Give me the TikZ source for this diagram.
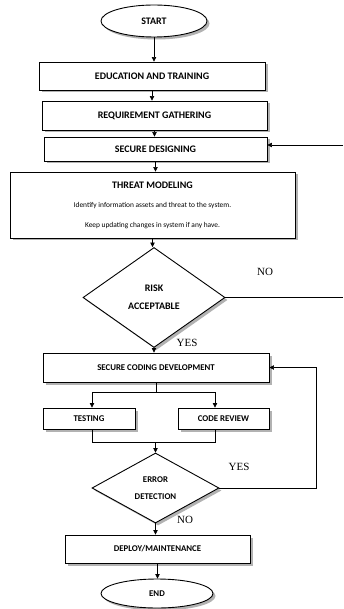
\documentclass[tikz,border=0pt]{standalone}
\usepackage{fontspec}
\setmainfont{Carlito}
\newfontfamily\lblfont{Liberation Serif}
\usetikzlibrary{shapes.geometric,shadows,arrows.meta}
\newcommand\hdfont{\fontsize{10}{12}\selectfont\bfseries}
\newcommand\lofont{\fontsize{8.8}{17}\selectfont\bfseries}

\begin{document}
\begin{tikzpicture}[x=1pt,y=-1pt,line width=0.7pt,
    >={Triangle[length=4.5pt,width=4.5pt]},
    shade/.style={drop shadow={shadow xshift=2.5pt,shadow yshift=-2.5pt,fill=black!30,opacity=1}},
    box/.style={draw,fill=white,inner sep=0pt,line width=0.9pt,shade,font=\hdfont},
    oval/.style={ellipse,draw,fill=white,inner sep=0pt,line width=0.9pt,shade,font=\hdfont},
    decide/.style={diamond,draw,fill=white,inner sep=0pt,line width=0.9pt,shade,align=center},
    lbl/.style={font=\lblfont\fontsize{11}{13}\selectfont}]
  \fill[white] (0,0) rectangle (344,609);
  \useasboundingbox (0,0) rectangle (344,609);

  %upper part
  \node[oval, minimum width=106pt, minimum height=32pt] (start) at (154,21) {START};
  \node[box, minimum width=226pt, minimum height=28pt] (edu) at (152,76) {EDUCATION AND TRAINING};
  \node[box, minimum width=225pt, minimum height=29pt] (req) at (154.5,115.5) {REQUIREMENT GATHERING};
  \node[box, minimum width=223pt, minimum height=24pt] (design) at (155.5,149) {SECURE DESIGNING};
  \node[box, minimum width=285pt, minimum height=66pt, align=center,
        font=\fontsize{7.4}{19.5}\selectfont] (threat) at (152.5,205)
        {{\hdfont\fontsize{10}{19.5}\selectfont THREAT MODELING}\\
         Identify information assets and threat to the system.\\
         Keep updating changes in system if any have.};
  \node[decide, minimum width=142pt, minimum height=100pt,
        font=\fontsize{10}{18}\selectfont\bfseries] (risk) at (154,297.5) {RISK\\ACCEPTABLE};

  %lower part
  \node[box, minimum width=226pt, minimum height=29pt, font=\lofont] (code) at (156,367.5) {SECURE CODING DEVELOPMENT};
  \node[box, minimum width=92pt, minimum height=21pt, font=\lofont] (testing) at (89,418.5) {TESTING};
  \node[box, minimum width=91pt, minimum height=21pt, font=\lofont] (review) at (223.5,418.5) {CODE REVIEW};
  \node[decide, minimum width=127pt, minimum height=70pt, font=\lofont] (err) at (155.5,488) {ERROR\\DETECTION};
  \node[box, minimum width=185pt, minimum height=28pt, font=\lofont] (deploy) at (157.5,549) {DEPLOY/MAINTENANCE};
  \node[oval, minimum width=112pt, minimum height=29pt, font=\lofont] (stop) at (157,593.5) {END};

  %labels
  \foreach \n/\p/\t in {noA/{(265,272)}/NO, yesA/{(187,343)}/YES, yesB/{(239,467)}/YES, noB/{(185,520)}/NO}
    \node[lbl] (\n) at \p {\t};

  %connectors
  \draw[->] (start.south) -- (start.south |- edu.north);
  \draw[->] (edu.south) -- (edu.south |- req.north);
  \draw[->] (req.south) -- (req.south |- design.north);
  \draw[->] (design.south) -- (design.south |- threat.north);
  \draw[->] (threat.south) -- (threat.south |- risk.north);
  \draw[->] (risk.south) -- (risk.south |- code.north);

  \coordinate (rA) at (343,145);
  \coordinate (rB) at (343,297.5);
  \draw[->] (rA) -- (rA -| design.east);
  \draw (risk.east) -- (rB);

  \coordinate (sL) at (92,392);
  \coordinate (sR) at (215,392);
  \coordinate (jL) at (92,442);
  \coordinate (jR) at (215,442);
  \draw (code.south) -- (code.south |- sL);
  \draw (sL) -- (sR);
  \draw[->] (sL) -- (sL |- testing.north);
  \draw[->] (sR) -- (sR |- review.north);
  \draw (sL |- testing.south) -- (jL) -- (jR) -- (sR |- review.south);
  \draw[->] (err.north |- jL) -- (err.north);

  \coordinate (lp) at (316,488);
  \draw[->] (err.east) -- (lp) -- (lp |- code.east) -- (code.east);
  \draw[->] (err.south) -- (err.south |- deploy.north);
  \draw[->] (deploy.south) -- (deploy.south |- stop.north);
\end{tikzpicture}
\end{document}
